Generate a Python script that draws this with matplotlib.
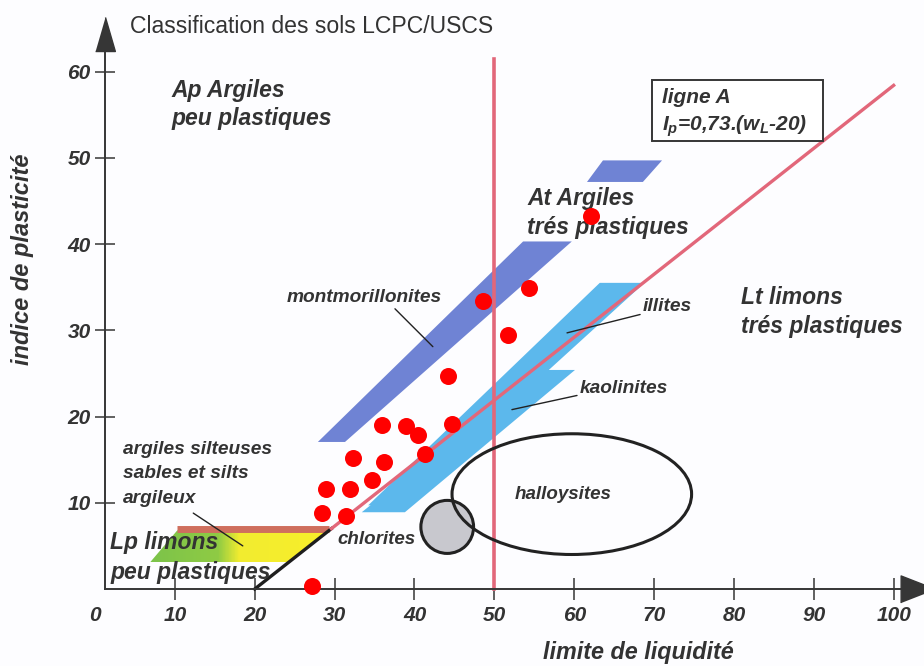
import matplotlib.pyplot as plt
import numpy as np
from matplotlib.patches import Polygon, Ellipse, Rectangle
from matplotlib.colors import LinearSegmentedColormap

plt.rcParams['font.family'] = ['Liberation Sans', 'DejaVu Sans']
plt.rcParams['mathtext.fontset'] = 'custom'
plt.rcParams['mathtext.it'] = 'Liberation Sans:italic:bold'
plt.rcParams['mathtext.rm'] = 'Liberation Sans:italic:bold'

# ---- measured samples (liquid limit wL, plasticity index Ip) ----
wl_samples = [27.2, 28.4, 31.4, 28.9, 31.9, 34.7, 32.3, 36.2, 41.3,
              35.9, 39.0, 40.4, 44.7, 44.2, 48.6, 51.7, 54.3, 62.1]
ip_samples = [0.4, 8.8, 8.5, 11.6, 11.6, 12.6, 15.2, 14.7, 15.7,
              19.0, 18.9, 17.9, 19.1, 24.7, 33.4, 29.4, 34.9, 43.2]

# ---- chart reference lines ----
aline_wl = [20, 29.6, 100]
aline_ip = [0, 7.0, 58.4]
wl_limit = 50
wl_limit_top = 61.5
lp_top_wl = [10.3, 29.3]
lp_top_ip = [6.9, 6.9]

# ---- mineral zones (corner points) ----
montmo_wl = [27.9, 31.3, 59.7, 53.6]
montmo_ip = [17.05, 17.05, 40.3, 40.3]
montmo2_wl = [61.6, 68.6, 71.0, 63.6]
montmo2_ip = [47.2, 47.2, 49.7, 49.7]
illite_wl = [34.2, 38.2, 68.8, 63.2]
illite_ip = [9.7, 9.7, 35.5, 35.5]
kaolin_wl = [33.4, 38.8, 60.1, 55.4]
kaolin_ip = [8.9, 8.9, 25.4, 25.4]
lp_wl = [6.9, 24.2, 29.3, 10.3]
lp_ip = [3.1, 3.1, 6.8, 6.8]
halloy_center = (59.7, 11.0)
halloy_size = (30.0, 14.0)
chlorite_center = (44.1, 7.2)
chlorite_size = (6.6, 6.15)

xtick_vals = [0, 10, 20, 30, 40, 50, 60, 70, 80, 90, 100]
ytick_vals = [10, 20, 30, 40, 50, 60]

axis_c = '#363636'
txt_c = '#333333'
red_line = '#e2677a'
dark_blue = '#6f83d4'
light_blue = '#5cb8ec'

fig = plt.figure(figsize=(9.24, 6.66), dpi=100)
fig.patch.set_facecolor('#fdfdff')
ax = fig.add_axes([0, 0, 1, 1])
ax.set_facecolor('#fdfdff')
ax.set_xlim(-11.9, 103.8)
ax.set_ylim(-8.93, 68.3)

# zones
ax.add_patch(Polygon(list(zip(montmo_wl, montmo_ip)), closed=True, color=dark_blue, lw=0, zorder=2))
ax.add_patch(Polygon(list(zip(montmo2_wl, montmo2_ip)), closed=True, color=dark_blue, lw=0, zorder=2))
ax.add_patch(Polygon(list(zip(illite_wl, illite_ip)), closed=True, color=light_blue, lw=0, zorder=2))
ax.add_patch(Polygon(list(zip(kaolin_wl, kaolin_ip)), closed=True, color=light_blue, lw=0, zorder=2))

# Lp zone with green -> yellow gradient
lp_poly = Polygon(list(zip(lp_wl, lp_ip)), closed=True, facecolor='none', lw=0)
ax.add_patch(lp_poly)
cmap = LinearSegmentedColormap.from_list('lp', [(0, '#7cc34a'), (0.38, '#8fcb44'), (0.5, '#f2ec30'), (1, '#f8ef2a')])
grad = np.linspace(0, 1, 200).reshape(1, -1)
im = ax.imshow(grad, extent=(min(lp_wl), max(lp_wl), min(lp_ip), max(lp_ip)),
               aspect='auto', cmap=cmap, zorder=2, origin='lower')
im.set_clip_path(lp_poly)
ax.plot(lp_top_wl, lp_top_ip, color='#cf6f5e', lw=5, solid_capstyle='butt', zorder=3)

# A line and wL = 50
ax.plot(aline_wl[:2], aline_ip[:2], color='#1e1e1e', lw=2.4, zorder=3)
ax.plot(aline_wl[1:], aline_ip[1:], color=red_line, lw=2.4, zorder=3)
ax.plot([wl_limit, wl_limit], [0, wl_limit_top], color=red_line, lw=2.6, zorder=3)

# chlorites / halloysites
ax.add_patch(Ellipse(chlorite_center, *chlorite_size, facecolor='#c8c8ce', edgecolor='#222', lw=2.2, zorder=4))
ax.add_patch(Ellipse(halloy_center, *halloy_size, facecolor='none', edgecolor='#222', lw=2.2, zorder=4))

# samples
ax.scatter(wl_samples, ip_samples, s=150, color='#ff0000', zorder=6, linewidths=0)

# axes
for s in ['top', 'right']:
    ax.spines[s].set_visible(False)
ax.spines['left'].set_position(('data', 1.2))
ax.spines['bottom'].set_position(('data', 0))
ax.spines['left'].set_bounds(0, 63)
ax.spines['bottom'].set_bounds(1.2, 101)
for s in ['left', 'bottom']:
    ax.spines[s].set_color(axis_c)
    ax.spines[s].set_linewidth(1.4)
    ax.spines[s].set_zorder(5)

tick_font = dict(fontsize=15, fontweight='bold', fontstyle='italic', color=txt_c)
ax.set_xticks(xtick_vals)
ax.set_xticklabels([str(v) for v in xtick_vals], **tick_font)
ax.set_yticks(ytick_vals)
ax.set_yticklabels([str(v) for v in ytick_vals], **tick_font)
ax.tick_params(axis='x', direction='inout', length=16, width=1.1, color=axis_c, pad=4)
ax.tick_params(axis='y', direction='inout', length=14, width=1.1, color=axis_c, pad=3)
ax.xaxis.get_major_ticks()[0].tick1line.set_visible(False)

up_head = [(-0.29, -0.5), (0.29, -0.5), (0, 0.5)]
right_head = [(-0.5, -0.39), (-0.5, 0.39), (0.5, 0)]
ax.plot([1.2], [64.3], marker=up_head, ms=24.5, color=axis_c, clip_on=False, zorder=5)
ax.plot([103.0], [0], marker=right_head, ms=25, color=axis_c, clip_on=False, zorder=5)

# texts
bi = dict(fontweight='bold', fontstyle='italic', color=txt_c, zorder=5)
ax.text(4.4, 65.2, 'Classification des sols LCPC/USCS', fontsize=16.6, color=txt_c, va='center')
ax.text(9.6, 56.15, 'Ap Argiles\npeu plastiques', fontsize=16.5, va='center', linespacing=1.3, **bi)
ax.text(54.1, 43.6, 'At Argiles\ntrés plastiques', fontsize=16.5, va='center', linespacing=1.3, **bi)
ax.text(80.9, 32.1, 'Lt limons\ntrés plastiques', fontsize=16.5, va='center', linespacing=1.3, **bi)
ax.text(1.9, 3.65, 'Lp limons\npeu plastiques', fontsize=16.5, va='center', linespacing=1.4, **bi)
ax.text(3.5, 13.35, 'argiles silteuses\nsables et silts\nargileux', fontsize=13.8, va='center',
        linespacing=1.55, **bi)

ax.add_patch(Rectangle((69.7, 51.9), 21.5, 7.1, facecolor='white', edgecolor=axis_c, lw=1.4, zorder=4))
ax.text(71.0, 57.0, 'ligne A', fontsize=15, va='center', **bi)
ax.text(71.0, 53.7, r'$I_p$=0,73.($w_L$-20)', fontsize=15, va='center', **bi)

ax.text(30.3, 5.7, 'chlorites', fontsize=13.5, va='center', **bi)
ax.text(52.6, 11.0, 'halloysites', fontsize=13.5, va='center', **bi)

lead = dict(arrowstyle='-', color='#222', lw=1.0)
ax.annotate('montmorillonites', xy=(42.3, 28.1), xytext=(24.0, 33.8), fontsize=13.8, va='center',
            arrowprops=dict(lead, shrinkA=0, shrinkB=0, relpos=(0.68, 0)), **bi)
ax.annotate('illites', xy=(59.1, 29.7), xytext=(68.6, 32.7), fontsize=13.8, va='center',
            arrowprops=dict(lead, shrinkA=0, shrinkB=0, relpos=(0, 0.1)), **bi)
ax.annotate('kaolinites', xy=(52.2, 20.8), xytext=(60.7, 23.3), fontsize=13.8, va='center',
            arrowprops=dict(lead, shrinkA=0, shrinkB=0, relpos=(0, 0.1)), **bi)
ax.annotate('', xy=(18.5, 5.0), xytext=(12.3, 8.8), arrowprops=dict(lead, shrinkA=0, shrinkB=0))

ax.text(-9.1, 38.2, 'indice de plasticité', fontsize=17, rotation=90, ha='center', va='center', **bi)
ax.text(68.0, -7.4, 'limite de liquidité', fontsize=16.8, ha='center', va='center', **bi)

fig.savefig('out.png', dpi=100, facecolor=fig.get_facecolor())
